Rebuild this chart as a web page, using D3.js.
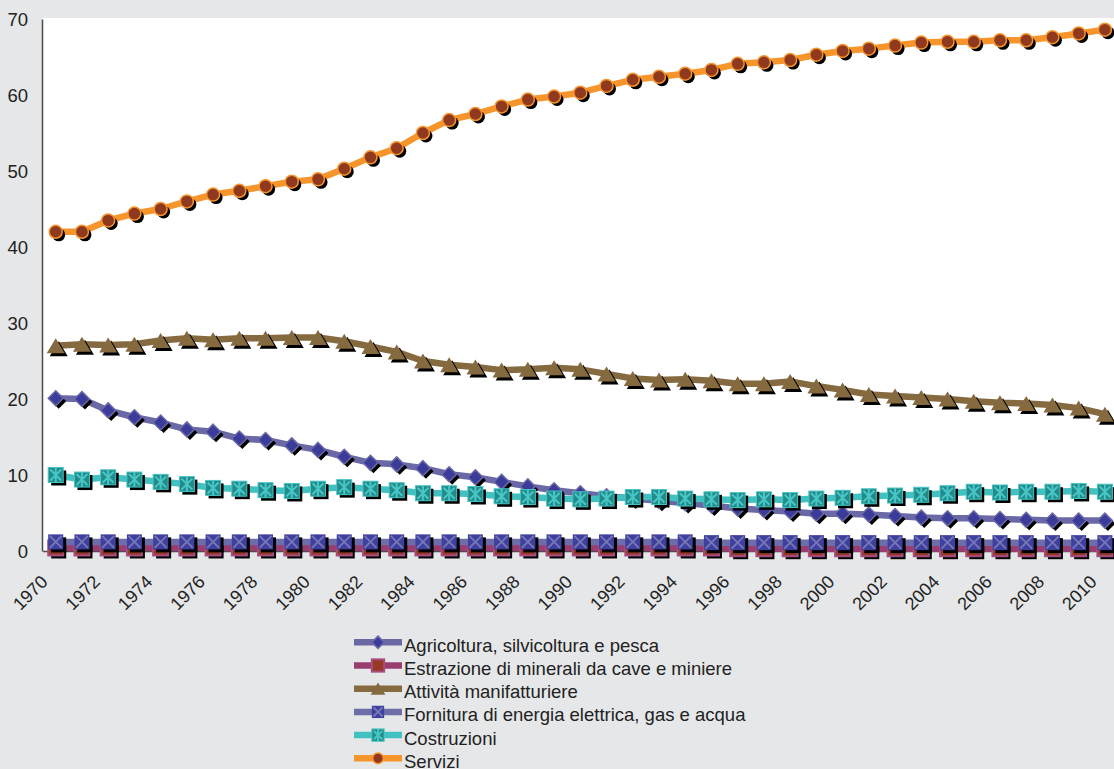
<!DOCTYPE html>
<html>
<head>
<meta charset="utf-8">
<script src="https://cdn.jsdelivr.net/npm/d3@7"></script>
<style>
  html, body { margin: 0; padding: 0; background: #e6e7e8; }
  svg { display: block; font-family: "Liberation Sans", Arial, sans-serif; }
</style>
</head>
<body>
<svg id="chart" width="1114" height="769"></svg>
<script>
// Quota di occupati per settore (%), 1970-2010
const years = [1970, 1971, 1972, 1973, 1974, 1975, 1976, 1977, 1978, 1979,
               1980, 1981, 1982, 1983, 1984, 1985, 1986, 1987, 1988, 1989,
               1990, 1991, 1992, 1993, 1994, 1995, 1996, 1997, 1998, 1999,
               2000, 2001, 2002, 2003, 2004, 2005, 2006, 2007, 2008, 2009, 2010];

const agricoltura = [20.1, 20.0, 18.5, 17.6, 16.9, 16.0, 15.7, 14.8, 14.6, 13.9,
                     13.3, 12.4, 11.6, 11.4, 10.9, 10.1, 9.7, 9.1, 8.5, 8.0,
                     7.6, 7.2, 6.9, 6.6, 6.3, 6.0, 5.6, 5.4, 5.2, 4.9,
                     4.9, 4.8, 4.6, 4.4, 4.3, 4.3, 4.2, 4.1, 4.0, 4.0, 4.0];

const estrazione = [0.4, 0.4, 0.4, 0.4, 0.4, 0.4, 0.4, 0.4, 0.4, 0.4,
                    0.4, 0.4, 0.4, 0.4, 0.4, 0.4, 0.4, 0.4, 0.4, 0.4,
                    0.4, 0.4, 0.4, 0.4, 0.4, 0.4, 0.3, 0.3, 0.3, 0.3,
                    0.3, 0.3, 0.3, 0.3, 0.3, 0.3, 0.3, 0.3, 0.3, 0.3, 0.3];

const manifatturiere = [27.0, 27.2, 27.1, 27.2, 27.7, 28.0, 27.8, 28.0, 28.0, 28.1,
                        28.1, 27.6, 26.9, 26.2, 25.0, 24.5, 24.2, 23.8, 23.9, 24.1,
                        23.9, 23.3, 22.7, 22.5, 22.6, 22.4, 22.0, 22.0, 22.3, 21.7,
                        21.2, 20.6, 20.4, 20.2, 20.0, 19.7, 19.5, 19.4, 19.2, 18.8, 18.0];

const energia = [1.2, 1.2, 1.2, 1.2, 1.2, 1.2, 1.2, 1.2, 1.2, 1.2,
                 1.2, 1.2, 1.2, 1.2, 1.2, 1.2, 1.2, 1.2, 1.2, 1.2,
                 1.2, 1.2, 1.2, 1.2, 1.2, 1.1, 1.1, 1.1, 1.1, 1.1,
                 1.1, 1.1, 1.1, 1.1, 1.1, 1.1, 1.1, 1.1, 1.1, 1.1, 1.1];

const costruzioni = [10.0, 9.4, 9.7, 9.4, 9.1, 8.8, 8.3, 8.2, 8.0, 7.9,
                     8.2, 8.4, 8.2, 8.0, 7.6, 7.6, 7.5, 7.2, 7.1, 6.9,
                     6.8, 6.9, 7.1, 7.1, 6.9, 6.8, 6.7, 6.8, 6.7, 6.9,
                     7.0, 7.2, 7.3, 7.4, 7.6, 7.8, 7.7, 7.8, 7.8, 7.9, 7.8];

const servizi = [42.0, 42.0, 43.5, 44.4, 45.0, 46.0, 46.9, 47.4, 48.0, 48.6,
                 48.9, 50.3, 51.8, 53.0, 55.0, 56.7, 57.5, 58.5, 59.4, 59.8,
                 60.3, 61.2, 62.0, 62.4, 62.8, 63.3, 64.1, 64.3, 64.6, 65.3,
                 65.8, 66.1, 66.5, 66.9, 67.0, 67.0, 67.2, 67.2, 67.6, 68.1, 68.6];

const seriesNames = [
  "Agricoltura, silvicoltura e pesca",
  "Estrazione di minerali da cave e miniere",
  "Attività manifatturiere",
  "Fornitura di energia elettrica, gas e acqua",
  "Costruzioni",
  "Servizi"
];

const yTicks = [0, 10, 20, 30, 40, 50, 60, 70];
const xTickYears = years.filter((d, i) => i % 2 === 0);

// Styling for each series: line colour plus marker description
const styles = [
  { line: "#6a69a6", marker: "diamond", fill: "#3b3b9a", stroke: "#6a69a6" },
  { line: "#993d70", marker: "square",  fill: "#983a23", stroke: "#a54d84" },
  { line: "#85693f", marker: "triangle", fill: "#85693f", stroke: "none" },
  { line: "#6d6ea9", marker: "xsquare", fill: "#3e3f9e", stroke: "#7576b4" },
  { line: "#41c1c1", marker: "stars",   fill: "#228b89", stroke: "#47c6c6" },
  { line: "#f7952d", marker: "circle",  fill: "#8f3a1f", stroke: "#f7952d" }
];

const seriesValues = [agricoltura, estrazione, manifatturiere, energia, costruzioni, servizi];
const series = seriesNames.map((name, i) => ({
  name,
  style: styles[i],
  points: years.map((yr, j) => ({ year: yr, value: seriesValues[i][j] }))
}));

const svg = d3.select("#chart");
const W = 1114, H = 769;

const plot = { left: 42.6, right: 1118, top: 19, bottom: 551 };

const x = d3.scaleBand().domain(years).range([plot.left, plot.right]).paddingInner(0).paddingOuter(0);
const xc = yr => x(yr) + x.bandwidth() / 2;
const y = d3.scaleLinear().domain([0, 70]).range([plot.bottom, plot.top]);

// Plot background
svg.append("rect")
  .attr("x", 42).attr("y", 18)
  .attr("width", W - 42).attr("height", plot.bottom - 18 + 1)
  .attr("fill", "#ffffff");

// Y axis
const yAxis = svg.append("g")
  .attr("transform", "translate(42,0)")
  .call(d3.axisLeft(y).tickValues(yTicks).tickSize(0).tickSizeOuter(0).tickPadding(14));
yAxis.select(".domain").attr("stroke", "#4a4a4a").attr("stroke-width", 1.5);
yAxis.selectAll("text")
  .attr("fill", "#222")
  .style("font-size", "18.5px")
  .attr("dy", "0.35em");

// X axis with slanted year labels
const xAxis = svg.append("g")
  .attr("transform", `translate(0,${plot.bottom})`)
  .call(d3.axisBottom(x).tickValues(xTickYears).tickSize(0).tickSizeOuter(0));
xAxis.select(".domain").attr("stroke", "#4a4a4a").attr("stroke-width", 1.5);
xAxis.selectAll("text")
  .attr("fill", "#222")
  .style("font-size", "18px")
  .attr("x", 0).attr("y", 0).attr("dy", 0)
  .attr("text-anchor", "end")
  .attr("transform", "translate(-7,32) rotate(-45)");

// Marker shapes drawn around (0,0)
function drawMarker(g, st, scale, color) {
  const fill = color || st.fill;
  const useStroke = !color;
  if (st.marker === "diamond") {
    const h = 7.5 * scale;
    g.append("path").attr("d", `M0,${-h}L${h},0L0,${h}L${-h},0Z`)
      .attr("fill", fill)
      .attr("stroke", useStroke ? st.stroke : "none").attr("stroke-width", 1.5);
  } else if (st.marker === "square") {
    const s = 7.5 * scale;
    g.append("rect").attr("x", -s).attr("y", -s).attr("width", 2 * s).attr("height", 2 * s)
      .attr("fill", fill)
      .attr("stroke", useStroke ? st.stroke : "none").attr("stroke-width", 2);
  } else if (st.marker === "triangle") {
    const w = 9 * scale, h = 7.5 * scale;
    g.append("path").attr("d", `M0,${-h}L${w},${h}L${-w},${h}Z`)
      .attr("fill", fill);
  } else if (st.marker === "xsquare") {
    const s = 7.5 * scale;
    g.append("rect").attr("x", -s).attr("y", -s).attr("width", 2 * s).attr("height", 2 * s)
      .attr("fill", fill);
    if (useStroke) {
      const k = s - 1.5;
      g.append("path").attr("d", `M${-k},${-k}L${k},${k}M${-k},${k}L${k},${-k}`)
        .attr("stroke", st.stroke).attr("stroke-width", 2).attr("fill", "none");
    }
  } else if (st.marker === "stars") {
    const s = 7.5 * scale;
    g.append("rect").attr("x", -s).attr("y", -s).attr("width", 2 * s).attr("height", 2 * s)
      .attr("fill", fill)
      .attr("stroke", useStroke ? st.stroke : "none").attr("stroke-width", 1);
    if (useStroke) {
      const k = s - 2;
      g.append("path").attr("d", `M${-k},${-k}L${k},${k}M${-k},${k}L${k},${-k}M0,${-s}L0,${s}`)
        .attr("stroke", st.stroke).attr("stroke-width", 2).attr("fill", "none");
    }
  } else if (st.marker === "circle") {
    g.append("circle").attr("r", 6.5 * scale)
      .attr("fill", fill)
      .attr("stroke", useStroke ? st.stroke : "none").attr("stroke-width", 1.5);
  }
}

const line = d3.line().x(d => xc(d.year)).y(d => y(d.value));

// Series: line first, then shadowed markers
series.forEach(s => {
  const g = svg.append("g");
  g.append("path")
    .datum(s.points)
    .attr("d", line)
    .attr("fill", "none")
    .attr("stroke", s.style.line)
    .attr("stroke-width", 6.5)
    .attr("stroke-linejoin", "round");

  s.points.forEach(p => {
    const px = xc(p.year), py = y(p.value);
    const sh = g.append("g").attr("transform", `translate(${px + 3},${py + 3})`);
    drawMarker(sh, s.style, 1, "#000");
    const m = g.append("g").attr("transform", `translate(${px},${py})`);
    drawMarker(m, s.style, 1);
  });
});

// Legend
const legend = svg.append("g");
series.forEach((s, i) => {
  const base = 651.7 + i * 23.2;
  const cy = base - 9.4;
  const row = legend.append("g");
  row.append("line")
    .attr("x1", 354).attr("x2", 402).attr("y1", cy).attr("y2", cy)
    .attr("stroke", s.style.line).attr("stroke-width", 6.5);
  const m = row.append("g").attr("transform", `translate(378,${cy})`);
  drawMarker(m, s.style, 0.82);
  row.append("text")
    .attr("x", 404).attr("y", base)
    .attr("fill", "#222")
    .style("font-size", "18.5px")
    .text(s.name);
});
</script>
</body>
</html>
